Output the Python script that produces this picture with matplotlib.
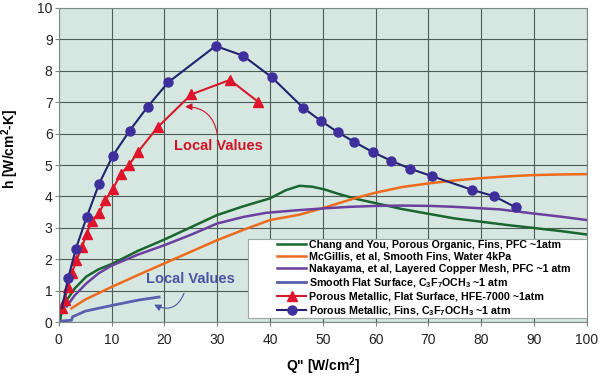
import matplotlib
matplotlib.use('Agg')
from matplotlib import pyplot as plt
from matplotlib.patches import Rectangle

# values
# Chang and You, porous organic, fins
chang_x = [0.2, 0.6, 1.5, 3.0, 5.2, 7.5, 10.0, 15.0, 20.0, 25.0, 30.0, 35.0, 40.0, 43.0, 45.6, 48.0, 50.2, 53.0, 56.4, 60.2, 65.0, 70.3, 75.0, 80.3, 85.0, 89.8, 95.0, 100.0]
chang_y = [0.0, 0.4, 0.7, 1.07, 1.45, 1.68, 1.85, 2.27, 2.63, 3.02, 3.41, 3.69, 3.94, 4.2, 4.34, 4.31, 4.23, 4.08, 3.92, 3.78, 3.6, 3.44, 3.3, 3.19, 3.09, 3.0, 2.9, 2.79]

# McGillis, smooth fins
mcg_x = [2.4, 5.0, 10.0, 15.0, 20.0, 25.0, 30.0, 35.0, 40.0, 45.6, 50.2, 56.4, 60.0, 65.0, 70.2, 75.0, 79.7, 85.0, 89.8, 95.0, 100.0]
mcg_y = [0.44, 0.72, 1.12, 1.5, 1.87, 2.24, 2.61, 2.94, 3.25, 3.42, 3.64, 3.96, 4.12, 4.3, 4.42, 4.51, 4.58, 4.64, 4.68, 4.7, 4.71]

# Nakayama, layered copper mesh
nak_x = [1.5, 3.0, 5.2, 7.5, 10.0, 15.0, 20.0, 25.0, 30.0, 35.0, 39.3, 45.0, 50.1, 55.0, 60.2, 65.0, 70.3, 75.0, 83.5, 89.8, 95.0, 100.0]
nak_y = [0.5, 0.85, 1.23, 1.55, 1.8, 2.15, 2.45, 2.78, 3.14, 3.35, 3.48, 3.56, 3.62, 3.67, 3.7, 3.71, 3.7, 3.67, 3.59, 3.46, 3.36, 3.25]

# smooth flat surface (local values)
flat_x = [0.0, 2.4, 2.6, 5.0, 10.0, 15.0, 19.0]
flat_y = [0.03, 0.06, 0.17, 0.35, 0.53, 0.7, 0.8]

# porous metallic, flat surface, HFE-7000
tri_x = [0.7, 1.1, 1.76, 2.5, 3.35, 4.4, 5.3, 6.25, 7.6, 8.84, 10.2, 11.7, 13.3, 15.0, 18.7, 25.1, 32.4, 37.7]
tri_y = [0.44, 0.72, 1.12, 1.58, 1.97, 2.4, 2.82, 3.23, 3.46, 3.89, 4.23, 4.71, 5.0, 5.42, 6.2, 7.25, 7.71, 7.02]

# porous metallic, fins (first point is only the start of the line)
circ_x = [0.6, 1.76, 3.2, 5.3, 7.6, 10.2, 13.4, 16.8, 20.7, 29.7, 34.9, 40.3, 46.3, 49.6, 52.8, 56.0, 59.5, 62.9, 66.6, 70.6, 78.3, 82.4, 86.6]
circ_y = [0.45, 1.39, 2.32, 3.35, 4.39, 5.29, 6.09, 6.85, 7.63, 8.79, 8.48, 7.8, 6.82, 6.41, 6.05, 5.73, 5.41, 5.14, 4.88, 4.65, 4.21, 4.01, 3.65]

labels = [
    'Chang and You, Porous Organic, Fins, PFC ~1atm',
    'McGillis, et al, Smooth Fins, Water 4kPa',
    'Nakayama, et al, Layered Copper Mesh, PFC ~1 atm',
    r'Smooth Flat Surface, C$_\mathbf{3}$F$_\mathbf{7}$OCH$_\mathbf{3}$ ~1 atm',
    'Porous Metallic, Flat Surface, HFE-7000 ~1atm',
    r'Porous Metallic, Fins, C$_\mathbf{3}$F$_\mathbf{7}$OCH$_\mathbf{3}$ ~1 atm',
]

plt.rcParams['font.family'] = 'Liberation Sans'
plt.rcParams['mathtext.fontset'] = 'custom'
plt.rcParams['mathtext.rm'] = 'Liberation Sans'
plt.rcParams['mathtext.bf'] = 'Liberation Sans:bold'

fig = plt.figure(figsize=(6.0, 3.79), dpi=100)
ax = fig.add_axes([0.098, 0.150, 0.88, 0.829])
ax.set_facecolor('#d6e7e1')

ax.plot(chang_x, chang_y, color='#19662e', lw=1.8, label=labels[0])
ax.plot(mcg_x, mcg_y, color='#ee6a1c', lw=1.8, label=labels[1])
ax.plot(nak_x, nak_y, color='#6b3fa0', lw=1.8, label=labels[2])
ax.plot(flat_x, flat_y, color='#5a5fae', lw=2.0, label=labels[3])
ax.plot(tri_x, tri_y, color='#d51a2a', lw=1.5, marker='^', ms=7,
        mfc='#e0142a', mec='#e0142a', label=labels[4])
ax.plot(circ_x, circ_y, color='#23226e', lw=1.5, marker='o', ms=6.5,
        mfc='#3e2f9c', mec='#3e2f9c', markevery=list(range(1, len(circ_x))),
        label=labels[5])

# local value notes
red = '#d01428'
ax.text(30.2, 5.6, 'Local Values', color=red, fontsize=10.5, fontweight='bold',
        ha='center', va='center')
ax.annotate('', xy=(23.4, 6.86), xytext=(30.1, 5.9),
            arrowprops=dict(arrowstyle='-|>,head_length=0.4,head_width=0.2', color=red,
                            lw=0.8, connectionstyle='arc3,rad=0.45'))
blue = '#4a55a2'
ax.text(25.0, 1.36, 'Local Values', color=blue, fontsize=10.5, fontweight='bold',
        ha='center', va='center')
ax.annotate('', xy=(17.6, 0.6), xytext=(23.9, 1.0),
            arrowprops=dict(arrowstyle='-|>,head_length=0.4,head_width=0.2', color=blue,
                            lw=0.8, connectionstyle='arc3,rad=-0.6'))

ax.set_xlim(0, 100)
ax.set_ylim(0, 10)
ax.set_xticks(range(0, 101, 10))
ax.set_yticks(range(0, 11))
ax.grid(True, color='#4d5c55', lw=0.8)
ax.set_axisbelow(True)
for s in ax.spines.values():
    s.set_color('#7a8a84')
ax.tick_params(axis='both', labelsize=10, length=3, color='#7a8a84', labelcolor='#222222')
ax.tick_params(axis='x', pad=5)
ax.tick_params(axis='y', pad=1.5)

ax.set_xlabel('Q" [W/cm$^\\mathbf{2}$]', fontsize=10, fontweight='bold')
ax.xaxis.set_label_coords(0.5, -0.105)
ax.set_ylabel('h [W/cm$^\\mathbf{2}$-K]', fontsize=10, fontweight='bold')
ax.yaxis.set_label_coords(-0.072, 0.55)

# legend frame drawn separately so the entries sit further right, as in the original
box = Rectangle((0.358, 0.013), 0.642, 0.251, transform=ax.transAxes, facecolor='white',
                edgecolor='#9aa8a2', lw=0.8, zorder=4)
ax.add_patch(box)
leg = ax.legend(loc='center left', bbox_to_anchor=(0.414, 0.138), frameon=False,
                prop={'weight': 'bold', 'size': 7.7}, handlelength=2.7, labelspacing=0.2,
                borderpad=0, handletextpad=0.3, borderaxespad=0)
leg.set_zorder(5)

fig.savefig('out.png', dpi=100)
